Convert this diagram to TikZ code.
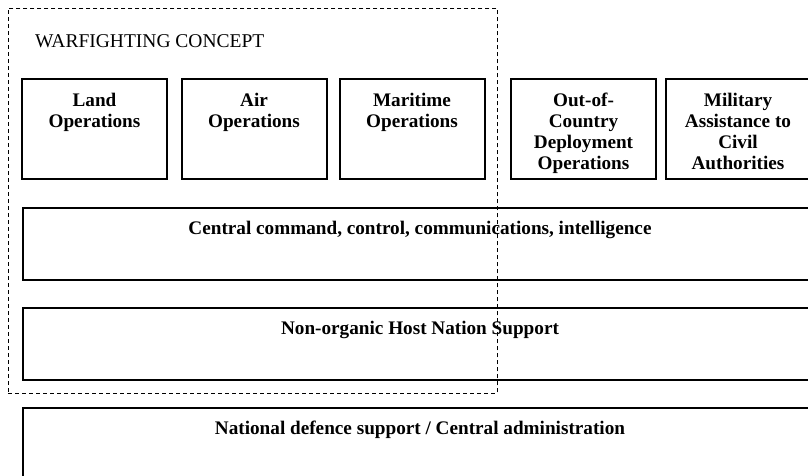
\documentclass[tikz,border=0pt]{standalone}
\usepackage{xcolor}
\usepackage{fontspec}
\setmainfont{Liberation Serif}
\usetikzlibrary{positioning}

\tikzset{
    opbox/.style={draw, line width=2pt, minimum width=145pt, minimum height=100pt, inner sep=0pt},
    optext/.style={font=\bfseries\fontsize{19.2}{21}\selectfont, align=center, inner sep=0pt},
    widebox/.style={draw, line width=2pt, minimum width=794pt, anchor=north west, inner sep=0pt},
    widetext/.style={font=\bfseries\fontsize{19.2}{21}\selectfont, inner sep=0pt},
    conceptframe/.style={draw, line width=0.8pt, dash pattern=on 4pt off 3pt, anchor=north west, inner sep=0pt}
}

\begin{document}
\begin{tikzpicture}[x=1pt,y=-1pt]
    \useasboundingbox (0,0) rectangle (808,475);
    \clip (0,0) rectangle (808,475);
    \foreach \n/\x/\t in {land/94.5/{Land\\Operations},air/254/{Air\\Operations},maritime/412/{Maritime\\Operations},ooc/583.5/{Out-of-\\Country\\Deployment\\Operations},maca/738/{Military\\Assistance to\\Civil\\Authorities}}{%
        \node[opbox] (\n) at (\x,129) {};
        \node[optext, below=14.5pt of \n.north] (\n-label) {\t};
    }%
    \foreach \n/\y/\h/\t in {c3i/207/72/{Central command, control, communications, intelligence},hns/307/72/{Non-organic Host Nation Support},natsupport/407/90/{National defence support / Central administration}}{%
        \node[widebox, minimum height=\h pt] (\n) at (22,\y) {};
        \node[widetext, below=13.5pt of \n.north] (\n-label) {\t};
    }%
    \node[conceptframe, minimum width=489pt, minimum height=385pt] (concept) at (8,8) {};
    \node[anchor=base west, inner sep=0pt, font=\fontsize{19.5}{22}\selectfont] (concept-title) at (35,47) {WARFIGHTING CONCEPT};
\end{tikzpicture}
\end{document}
